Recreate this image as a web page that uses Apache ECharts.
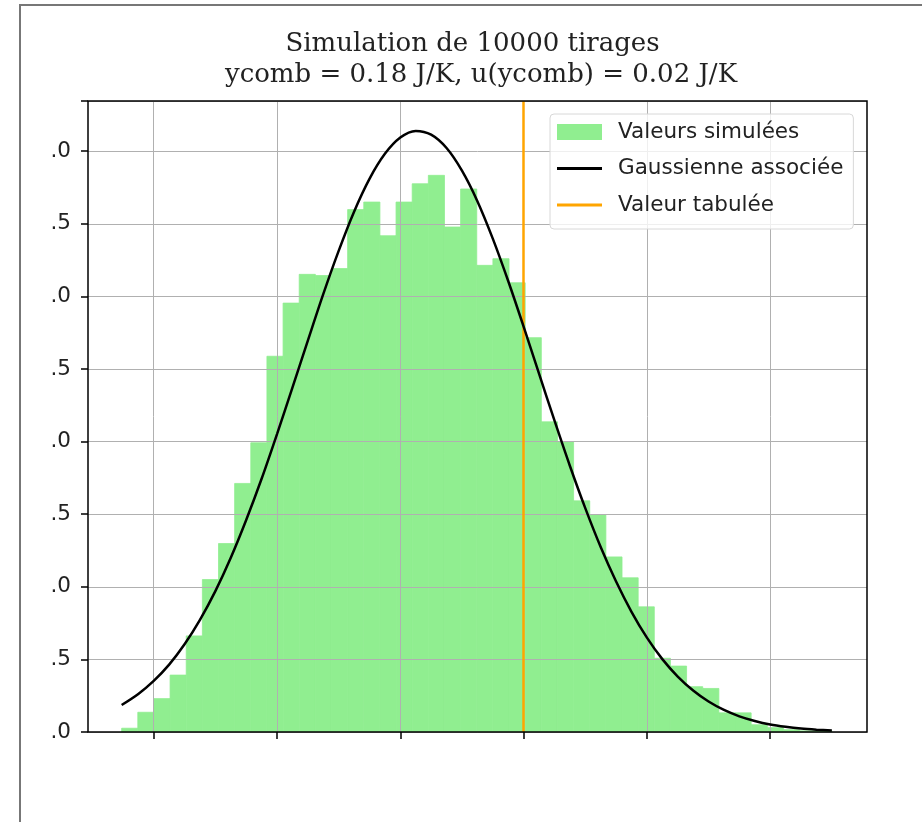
<!DOCTYPE html>
<html>
<head>
<meta charset="utf-8">
<script src="https://cdn.jsdelivr.net/npm/echarts@6/dist/echarts.min.js"></script>
<style>
html,body{margin:0;padding:0;background:#fff;}
#chart{width:922px;height:822px;}
</style>
</head>
<body>
<div id="chart"></div>
<script>
// ---- data ----
const titleLines = ['Simulation de 10000 tirages', 'ycomb = 0.18 J/K, u(ycomb) = 0.02 J/K'];
const seriesNames = ['Valeurs simulées', 'Gaussienne associée', 'Valeur tabulée'];
// histogram: sample range and bin densities (44 bins)
const histRange = [0.1348, 0.2500];
const histDensity = [0.13, 0.68, 1.15, 1.96, 3.31, 5.25, 6.49, 8.56, 9.96, 12.94,
  14.77, 15.76, 15.72, 15.96, 17.99, 18.25, 17.09, 18.25, 18.88, 19.17,
  17.39, 18.70, 16.07, 16.30, 15.47, 13.58, 10.68, 9.99, 7.96, 7.47,
  6.03, 5.31, 4.31, 2.54, 2.27, 1.56, 1.50, 0.66, 0.66, 0.25,
  0.15, 0.08, 0.04, 0.04];
// gaussian curve, every 0.0025
const curveX = [0.1348, 0.1375, 0.1400, 0.1425, 0.1450, 0.1475, 0.1500, 0.1525, 0.1550, 0.1575,
  0.1600, 0.1625, 0.1650, 0.1675, 0.1700, 0.1725, 0.1750, 0.1775, 0.1800, 0.1825,
  0.1850, 0.1875, 0.1900, 0.1925, 0.1950, 0.1975, 0.2000, 0.2025, 0.2050, 0.2075,
  0.2100, 0.2125, 0.2150, 0.2175, 0.2200, 0.2225, 0.2250, 0.2275, 0.2300, 0.2325,
  0.2350, 0.2375, 0.2400, 0.2425, 0.2450, 0.2475, 0.2500];
const curveY = [0.93, 1.31, 1.76, 2.32, 3.02, 3.86, 4.85, 6.00, 7.30, 8.72,
  10.26, 11.86, 13.48, 15.08, 16.57, 17.92, 19.05, 19.91, 20.47, 20.70,
  20.57, 20.11, 19.33, 18.28, 16.99, 15.53, 13.96, 12.34, 10.73, 9.17,
  7.71, 6.37, 5.18, 4.14, 3.25, 2.51, 1.91, 1.43, 1.05, 0.76,
  0.54, 0.38, 0.26, 0.18, 0.12, 0.08, 0.05];
const tabulatedValue = 0.1998;
// axes
const xRange = [0.12934, 0.2557];
const xTicks = [0.14, 0.16, 0.18, 0.20, 0.22, 0.24];
const yRange = [0, 21.73];
const yStep = 2.5;
const yTickLabels = ['.0', '.5', '.0', '.5', '.0', '.5', '.0', '.5', '.0'];

// ---- build ----
const nBins = histDensity.length;
const binW = (histRange[1] - histRange[0]) / nBins;
const histData = histDensity.map((d, i) => [histRange[0] + i * binW, histRange[0] + (i + 1) * binW, d]);
const curveData = curveX.map((x, i) => [x, curveY[i]]);

const chart = echarts.init(document.getElementById('chart'), null, {renderer: 'canvas'});
const gridColor = '#b0b0b0';
const green = '#90EE90';
const titleStyle = {fontFamily: 'DejaVu Serif', fontWeight: 'normal', fontSize: 26, lineHeight: 31, color: '#222'};
chart.setOption({
  animation: false,
  backgroundColor: '#fff',
  textStyle: {fontFamily: 'DejaVu Sans'},
  graphic: [{
    type: 'rect', silent: true, z: 100,
    shape: {x: 20, y: 5, width: 1000, height: 1000},
    style: {fill: null, stroke: '#777', lineWidth: 2}
  }],
  title: [
    {text: titleLines[0], left: 472.5, top: 29, textAlign: 'center', padding: 0, textStyle: titleStyle},
    {text: titleLines[1], left: 481, top: 60, textAlign: 'center', padding: 0, textStyle: titleStyle}
  ],
  legend: {
    orient: 'vertical', left: 550, top: 114,
    padding: [7, 10, 13, 7],
    itemWidth: 45, itemHeight: 16, itemGap: 14.5,
    symbolKeepAspect: true,
    backgroundColor: 'rgba(255,255,255,0.8)', borderColor: '#d8d8d8', borderWidth: 1, borderRadius: 4,
    textStyle: {fontSize: 21.5, color: '#222', padding: [0, 0, 0, 11]},
    data: [
      {name: seriesNames[0], icon: 'rect'},
      {name: seriesNames[1], icon: 'path://M0,0H45V3H0Z'},
      {name: seriesNames[2], icon: 'path://M0,0H45V3H0Z'}
    ],
    z: 20
  },
  grid: {left: 88, top: 101, right: 55, bottom: 90, show: true, borderColor: '#000', borderWidth: 1.5, backgroundColor: 'transparent', z: 10},
  xAxis: {
    type: 'value', min: xRange[0], max: xRange[1], z: 3,
    axisLine: {show: false},
    axisTick: {show: true, length: 7, lineStyle: {color: '#000', width: 1.5}, customValues: xTicks},
    axisLabel: {show: false, customValues: xTicks},
    splitLine: {show: true, lineStyle: {color: gridColor, width: 1}}
  },
  yAxis: {
    type: 'value', min: yRange[0], max: yRange[1], interval: yStep, z: 3,
    axisLine: {show: false},
    axisTick: {show: true, length: 7, lineStyle: {color: '#000', width: 1.5}},
    axisLabel: {fontSize: 21.5, color: '#222', margin: 17,
      formatter: v => yTickLabels[Math.round(v / yStep)] || ''},
    splitLine: {show: true, lineStyle: {color: gridColor, width: 1}}
  },
  series: [
    {
      name: seriesNames[0], type: 'custom', z: 2,
      itemStyle: {color: green},
      encode: {x: [0, 1], y: 2},
      data: histData,
      renderItem: (params, api) => {
        const p0 = api.coord([api.value(0), api.value(2)]);
        const p1 = api.coord([api.value(1), 0]);
        return {type: 'rect', shape: {x: p0[0], y: p0[1], width: p1[0] - p0[0], height: p1[1] - p0[1]},
          style: {fill: green, stroke: green, lineWidth: 0.8}};
      }
    },
    {
      name: seriesNames[1], type: 'line', z: 5, smooth: 0.3,
      showSymbol: false, symbol: 'none', color: '#000',
      lineStyle: {color: '#000', width: 2.5},
      data: curveData
    },
    {
      name: seriesNames[2], type: 'line', z: 6, symbol: 'none', color: '#FFA500',
      lineStyle: {color: '#FFA500', width: 2.5},
      data: [],
      markLine: {
        silent: true, symbol: ['none', 'none'], label: {show: false},
        lineStyle: {color: '#FFA500', width: 2.5, type: 'solid'},
        data: [{xAxis: tabulatedValue}]
      }
    }
  ]
});
</script>
</body>
</html>
